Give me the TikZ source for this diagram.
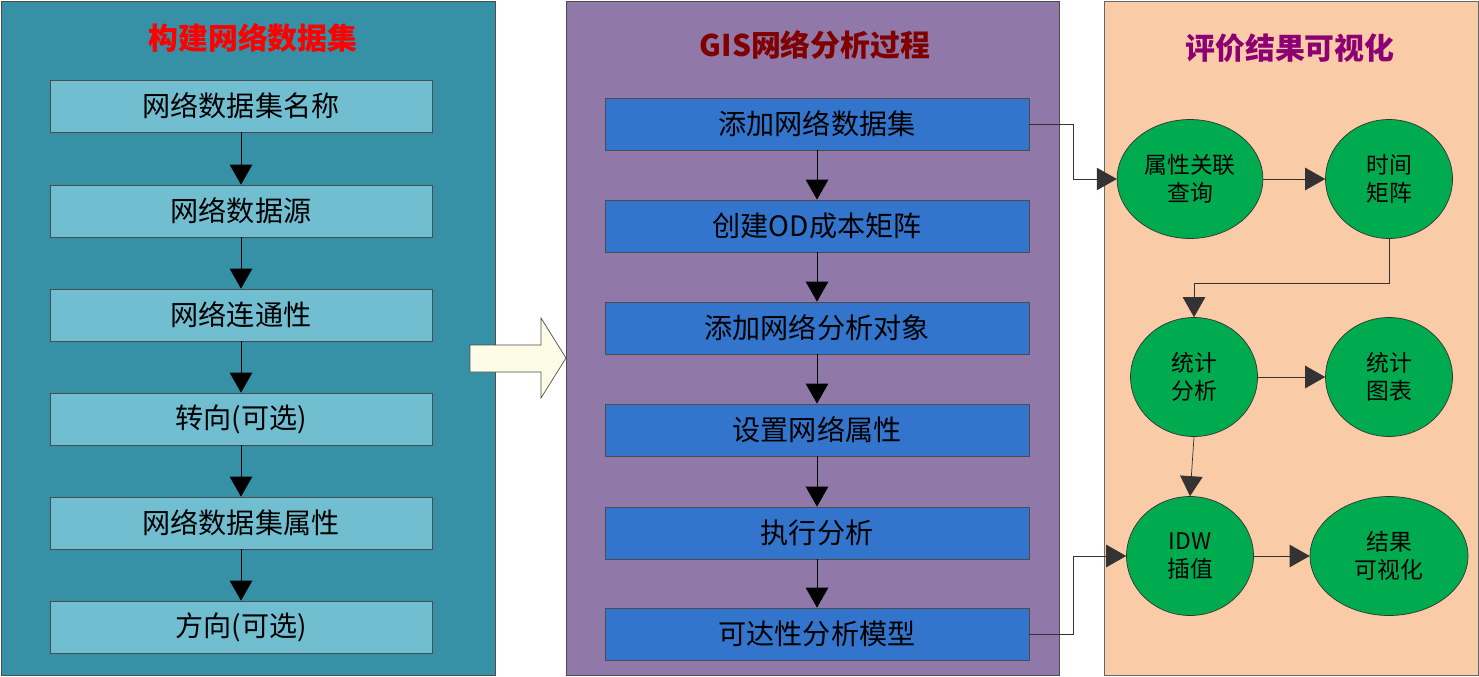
\documentclass[tikz,border=0pt]{standalone}
\usepackage{fontspec}
\setmainfont{Liberation Serif}
\newfontfamily\cjk{Noto Sans CJK SC}
\usetikzlibrary{arrows.meta,shapes.geometric,positioning}
\definecolor{tealbg}{HTML}{3690A6}
\definecolor{purplebg}{HTML}{9079A9}
\definecolor{peachbg}{HTML}{F9CBA7}
\definecolor{lightbox}{HTML}{72BED1}
\definecolor{bluebox}{HTML}{3375CC}
\definecolor{greennode}{HTML}{00AA4F}
\tikzset{
  stepL/.style={draw=black!70, fill=lightbox, minimum width=7.64cm, minimum height=1.04cm, font=\cjk\fontsize{16}{18}\selectfont},
  stepM/.style={draw=black!70, fill=bluebox, minimum width=8.48cm, minimum height=1.04cm, font=\cjk\fontsize{16}{18}\selectfont},
  circ/.style={ellipse, draw=black!80, fill=greennode, minimum width=2.54cm, minimum height=2.38cm, align=center, font=\cjk\fontsize{13}{16}\selectfont},
  title/.style={font=\cjk\bfseries\itshape\fontsize{17}{20}\selectfont},
  flow/.style={-{Triangle[length=0.4cm,width=0.45cm]}, black, line width=0.5pt},
  thin/.style={-{Triangle[length=0.4cm,width=0.45cm]}, black!80, line width=0.4pt}
}
\begin{document}
\begin{tikzpicture}[x=0.02cm,y=-0.02cm]
  \useasboundingbox (0,0) rectangle (1479,676);
  % panels
  \filldraw[fill=tealbg, draw=black!70] (1,1) rectangle (495,675);
  \filldraw[fill=purplebg, draw=black!70] (566,1) rectangle (1059,675);
  \filldraw[fill=peachbg, draw=black!60] (1104,1) rectangle (1478,675);
  % big arrow
  \filldraw[fill=black!8!yellow!10!white, draw=black!70]
    (470,345) -- (541,345) -- (541,318) -- (566,358) -- (541,398) -- (541,372) -- (470,372) -- cycle;
  % titles
  \node[title, text=red] (tL) at (253,38) {构建网络数据集};
  \node[title, text=red!50!black] (tM) at (815,45) {GIS网络分析过程};
  \node[title, text=violet!80!purple] (tR) at (1290,48) {评价结果可视化};
  % left column
  \node[stepL] (l1) at (241,106) {网络数据集名称};
  \node[stepL] (l2) at (241,211) {网络数据源};
  \node[stepL] (l3) at (241,315) {网络连通性};
  \node[stepL] (l4) at (241,419) {转向(可选)};
  \node[stepL] (l5) at (241,523) {网络数据集属性};
  \node[stepL] (l6) at (241,627) {方向(可选)};
  \foreach \a/\b in {l1/l2,l2/l3,l3/l4,l4/l5,l5/l6}
    \draw[flow] (\a) -- (\b);
  % middle column
  \node[stepM] (m1) at (817,124) {添加网络数据集};
  \node[stepM] (m2) at (817,226) {创建OD成本矩阵};
  \node[stepM] (m3) at (817,328) {添加网络分析对象};
  \node[stepM] (m4) at (817,430) {设置网络属性};
  \node[stepM] (m5) at (817,533) {执行分析};
  \node[stepM] (m6) at (817,634) {可达性分析模型};
  \foreach \a/\b in {m1/m2,m2/m3,m3/m4,m4/m5,m5/m6}
    \draw[flow] (\a) -- (\b);
  % right column
  \node[circ] (c1) at (1190,179) {属性关联\\查询};
  \node[circ] (c2) at (1389,179) {时间\\矩阵};
  \node[circ] (c3) at (1194,377) {统计\\分析};
  \node[circ] (c4) at (1389,377) {统计\\图表};
  \node[circ] (c5) at (1190,556) {IDW\\插值};
  \node[circ, minimum width=3.16cm] (c6) at (1389,556) {结果\\可视化};
  \draw[thin] (m1.east) -| (1073,179) -- (c1.west);
  \draw[thin] (m6.east) -| (1073,556) -- (c5.west);
  \draw[thin] (c1) -- (c2);
  \draw[thin] (c2.south) |- (1194,283) -- (c3.north);
  \draw[thin] (c3) -- (c4);
  \draw[thin] (c3.south) -- (c5.north);
  \draw[thin] (c5) -- (c6);
\end{tikzpicture}
\end{document}
